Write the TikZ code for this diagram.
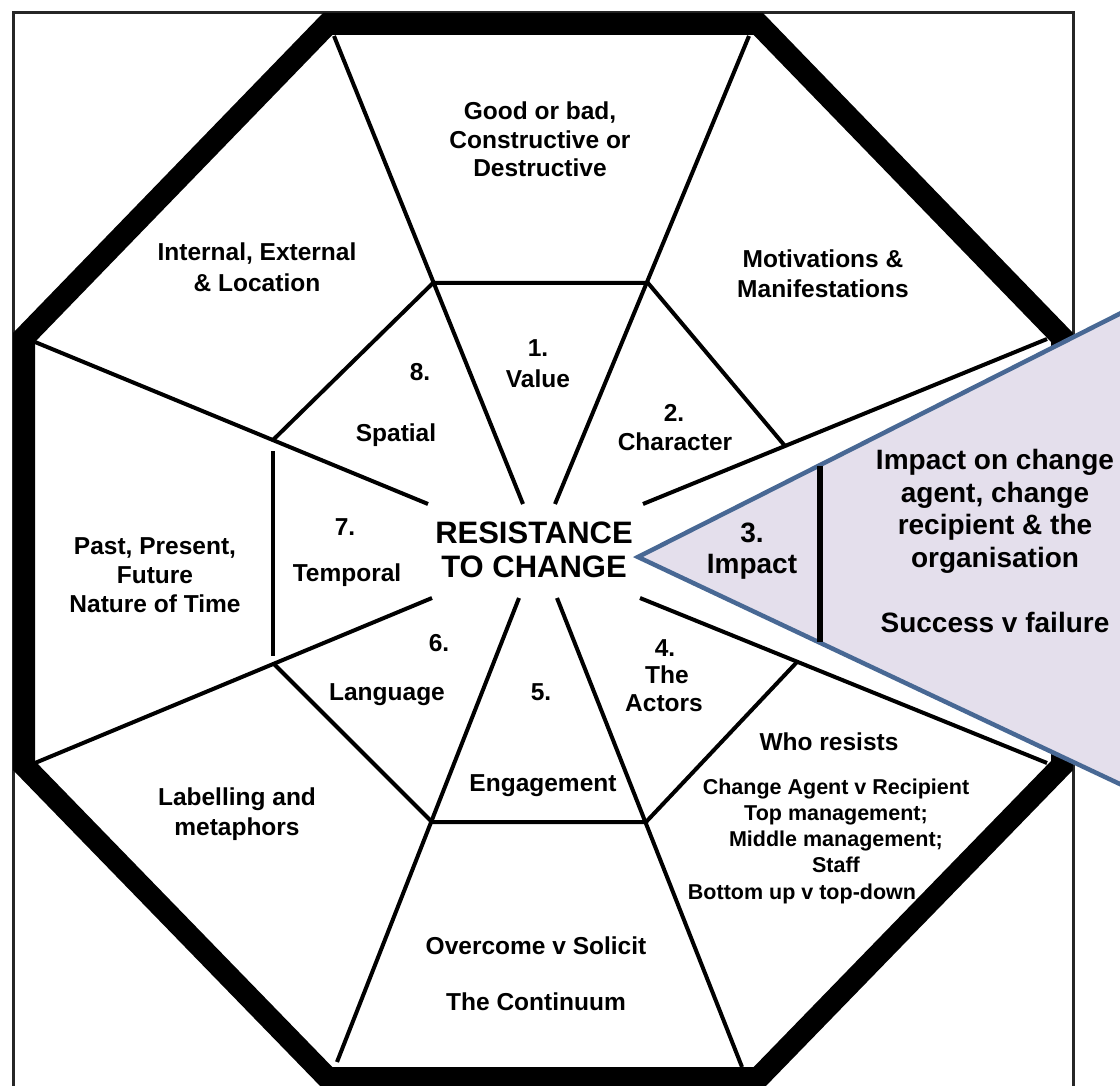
\documentclass[tikz,border=0pt]{standalone}
\usepackage{fontspec}
\setmainfont{Liberation Sans}
\definecolor{calloutfill}{RGB}{228,223,236}
\definecolor{calloutedge}{RGB}{72,104,148}
\begin{document}
\begin{tikzpicture}[x=1pt,y=-1pt,
  frame/.style={line width=3pt, draw=black!85},
  band/.style={line width=44pt, line join=miter},
  thin/.style={line width=4pt},
  bar/.style={line width=6pt},
  callout/.style={fill=calloutfill, draw=calloutedge, line width=4.5pt, line join=miter},
  txt/.style={font=\bfseries\fontsize{24.5}{#1}\selectfont, align=center, inner sep=0pt},
  txt/.default=30,
  one/.style={text height=17.5pt, text depth=0pt},
  small/.style={font=\bfseries\fontsize{21.5}{26}\selectfont, align=center, inner sep=0pt},
  big/.style={font=\bfseries\fontsize{28}{32.5}\selectfont, align=center, inner sep=0pt},
  bigone/.style={text height=20pt, text depth=0pt},
  title/.style={font=\bfseries\fontsize{31}{33.5}\selectfont, align=center, inner sep=0pt}]
\useasboundingbox (0,0) rectangle (1120,1086);
\begin{scope}
\clip (0,0) rectangle (1120,1086);

% square frame
\draw[frame] (13,13) rectangle (1073,1089);

% outer octagon, band drawn inside its outline
\coordinate (oA) at (323,13);
\coordinate (oB) at (763,13);
\coordinate (oC) at (1073,333);
\coordinate (oD) at (1073,770);
\coordinate (oE) at (763,1089);
\coordinate (oF) at (323,1089);
\coordinate (oG) at (13,770);
\coordinate (oH) at (13,333);
\begin{scope}
  \clip (oA)--(oB)--(oC)--(oD)--(oE)--(oF)--(oG)--(oH)--cycle;
  \draw[band] (oA)--(oB)--(oC)--(oD)--(oE)--(oF)--(oG)--(oH)--cycle;
\end{scope}

% spokes: inner ends around the title, outer ends at the band
\coordinate (s1) at (523,504);  \coordinate (e1) at (334,36);
\coordinate (s2) at (555,504);  \coordinate (e2) at (749,36);
\coordinate (s3) at (643,504);  \coordinate (e3) at (1047,339);
\coordinate (s4) at (640,598);  \coordinate (e4) at (1047,763);
\coordinate (s5) at (557,598);  \coordinate (e5) at (742,1067);
\coordinate (s6) at (519,598);  \coordinate (e6) at (337,1062);
\coordinate (s7) at (432,598);  \coordinate (e7) at (35,763);
\coordinate (s8) at (428,504);  \coordinate (e8) at (35,342);
\foreach \i in {1,...,8} \draw[thin] (s\i) -- (e\i);

% inner octagon
\coordinate (p1) at (433,283);
\coordinate (p2) at (648,283);
\coordinate (p3) at (785,446);
\coordinate (p4) at (797,662);
\coordinate (p5) at (646,822);
\coordinate (p6) at (432,822);
\coordinate (p7) at (273,663);
\coordinate (p8) at (273,440);
\coordinate (l1) at (273,451);
\coordinate (l2) at (273,656);
\draw[thin] (p1) -- (p2) -- (p3);
\draw[thin] (p4) -- (p5) -- (p6) -- (p7);
\draw[thin] (p8) -- (p1);
\draw[thin] (l1) -- (l2);

% exploded segment 3
\coordinate (tip) at (638,557);
\coordinate (ctop) at (1140,303.5);
\coordinate (cbot) at (1140,793.5);
\draw[callout] (tip) -- (ctop) -- (cbot) -- cycle;
\coordinate (b1) at (820,466);
\coordinate (b2) at (820,642);
\draw[bar] (b1) -- (b2);

% centre
\node[title] (rtc) at (534,550) {RESISTANCE\\TO CHANGE};

% outer ring
\node[txt=28.5] (good) at (540,139.5) {Good or bad,\\Constructive or\\Destructive};
\node[txt=31] (internal) at (257,267.5) {Internal, External\\\& Location};
\node[txt=30] (motiv) at (823,274) {Motivations \&\\Manifestations};
\node[txt=29] (past) at (155,575) {Past, Present,\\Future\\Nature of Time};
\node[txt=30] (labelling) at (237,814) {Labelling and\\metaphors};
\node[txt=28] (overcome) at (536,974) {Overcome v Solicit\\[28pt]The Continuum};
\node[txt, one] (who) at (829,742) {Who resists};
\node[small] (list) at (836,826) {Change Agent v Recipient\\Top management;\\Middle management;\\Staff};
\node[small, text height=15.4pt, text depth=0pt] (bottomup) at (802,892) {Bottom up v top-down};

% inner ring
\node[txt, one] (n1) at (538,348) {1.};
\node[txt, one] (value) at (538,379) {Value};
\node[txt, one] (n2) at (674,413) {2.};
\node[txt, one] (character) at (675,442) {Character};
\node[big, bigone] (n3) at (752,532) {3.};
\node[big, bigone] (impact) at (752,563) {Impact};
\node[txt, one] (n4) at (665,648) {4.};
\node[txt, one] (the) at (667,675) {The};
\node[txt, one] (actors) at (664,703) {Actors};
\node[txt, one] (n5) at (541,692) {5.};
\node[txt, one] (engagement) at (543,783) {Engagement};
\node[txt, one] (n6) at (439,643) {6.};
\node[txt, one] (language) at (387,692) {Language};
\node[txt, one] (n7) at (345,527) {7.};
\node[txt, one] (temporal) at (347,573) {Temporal};
\node[txt, one] (n8) at (420,372) {8.};
\node[txt, one] (spatial) at (396,433) {Spatial};

% callout text
\node[big] (impacttxt) at (995,541) {Impact on change\\agent, change\\recipient \& the\\organisation\\[32.5pt]Success v failure};
\end{scope}
\end{tikzpicture}
\end{document}
